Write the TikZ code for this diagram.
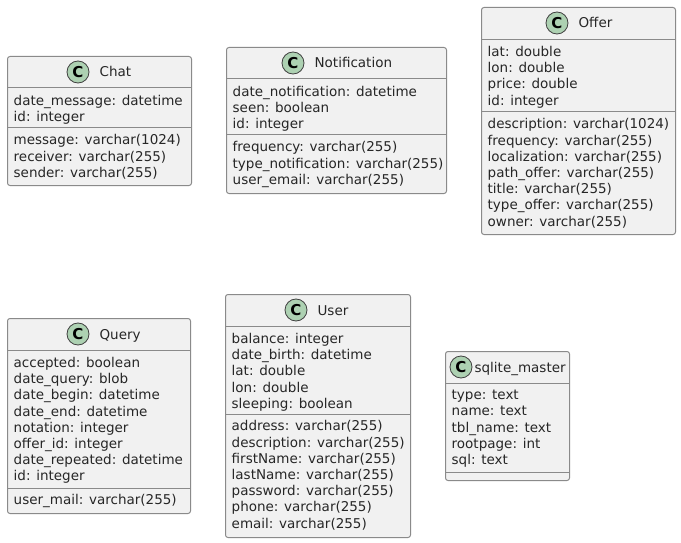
\documentclass[tikz,border=0pt]{standalone}
\usepackage{fontspec}
\setmainfont{DejaVu Sans}
\usetikzlibrary{positioning,calc}
\definecolor{classfill}{HTML}{F1F1F1}
\definecolor{classline}{HTML}{8A8A8A}
\definecolor{iconfill}{HTML}{ADD1B2}
\definecolor{iconline}{HTML}{404040}
\tikzset{
    classbox/.style={draw=classline, fill=classfill, line width=1pt, rounded corners=2.5pt, anchor=north west, inner sep=0pt, outer sep=0pt},
    classicon/.style={draw=iconline, fill=iconfill, line width=0.8pt, circle, minimum size=22pt, inner sep=0pt, font=\fontsize{15}{15}\selectfont\bfseries},
    classtitle/.style={font=\fontsize{13.5}{14}\selectfont, text=black!85, inner sep=0pt, text height=10pt, text depth=0pt},
    members/.style={anchor=north west, align=left, inner sep=0pt, text=black!85, font=\fontsize{13.5}{16.2}\selectfont},
    sep/.style={draw=classline, line width=1pt}
}
\begin{document}
\begin{tikzpicture}[x=1pt, y=-1pt]
        \useasboundingbox (0,0) rectangle (681,543);

        % Chat
        \node[classbox, minimum width=184pt, minimum height=129pt] (chat) at (7.5,56.5) {};
        \node[classicon] (chatIcon) at (78,72) {C};
        \node[classtitle, right=10pt of chatIcon] (chatTitle) {Chat};
        \draw[sep] (chat.west |- 0,88) -- (chat.east |- 0,88);
        \draw[sep] (chat.west |- 0,128) -- (chat.east |- 0,128);
        \node[members] (chatFields) at (13.5,95) {date\_message: datetime\\id: integer};
        \node[members] (chatMethods) at (13.5,134.5) {message: varchar(1024)\\receiver: varchar(255)\\sender: varchar(255)};

        % Notification
        \node[classbox, minimum width=220pt, minimum height=146pt] (notification) at (226.5,47.5) {};
        \node[classicon] (notificationIcon) at (293,63) {C};
        \node[classtitle, right=10pt of notificationIcon] (notificationTitle) {Notification};
        \draw[sep] (notification.west |- 0,79) -- (notification.east |- 0,79);
        \draw[sep] (notification.west |- 0,135) -- (notification.east |- 0,135);
        \node[members] (notificationFields) at (232.5,86) {date\_notification: datetime\\seen: boolean\\id: integer};
        \node[members] (notificationMethods) at (232.5,141.5) {frequency: varchar(255)\\type\_notification: varchar(255)\\user\_email: varchar(255)};

        % Offer
        \node[classbox, minimum width=194pt, minimum height=227pt] (offer) at (481.5,7.5) {};
        \node[classicon] (offerIcon) at (557,23) {C};
        \node[classtitle, right=10pt of offerIcon] (offerTitle) {Offer};
        \draw[sep] (offer.west |- 0,39.5) -- (offer.east |- 0,39.5);
        \draw[sep] (offer.west |- 0,112) -- (offer.east |- 0,112);
        \node[members] (offerFields) at (487.5,46) {lat: double\\lon: double\\price: double\\id: integer};
        \node[members] (offerMethods) at (487.5,118.5) {description: varchar(1024)\\frequency: varchar(255)\\localization: varchar(255)\\path\_offer: varchar(255)\\title: varchar(255)\\type\_offer: varchar(255)\\owner: varchar(255)};

        % Query
        \node[classbox, minimum width=183pt, minimum height=195pt] (query) at (7.5,318.5) {};
        \node[classicon] (queryIcon) at (78,334) {C};
        \node[classtitle, right=10pt of queryIcon] (queryTitle) {Query};
        \draw[sep] (query.west |- 0,350.5) -- (query.east |- 0,350.5);
        \draw[sep] (query.west |- 0,488) -- (query.east |- 0,488);
        \node[members] (queryFields) at (13.5,357) {accepted: boolean\\date\_query: blob\\date\_begin: datetime\\date\_end: datetime\\notation: integer\\offer\_id: integer\\date\_repeated: datetime\\id: integer};
        \node[members] (queryMethods) at (13.5,494.5) {user\_mail: varchar(255)};

        % User
        \node[classbox, minimum width=185pt, minimum height=243pt] (user) at (225.5,294.5) {};
        \node[classicon] (userIcon) at (296,310) {C};
        \node[classtitle, right=10pt of userIcon] (userTitle) {User};
        \draw[sep] (user.west |- 0,326.5) -- (user.east |- 0,326.5);
        \draw[sep] (user.west |- 0,414) -- (user.east |- 0,414);
        \node[members] (userFields) at (231.5,333) {balance: integer\\date\_birth: datetime\\lat: double\\lon: double\\sleeping: boolean};
        \node[members] (userMethods) at (231.5,420.5) {address: varchar(255)\\description: varchar(255)\\firstName: varchar(255)\\lastName: varchar(255)\\password: varchar(255)\\phone: varchar(255)\\email: varchar(255)};

        % sqlite_master
        \node[classbox, minimum width=124pt, minimum height=129pt] (sqlite) at (445.5,351.5) {};
        \node[classicon] (sqliteIcon) at (461,367) {C};
        \node[classtitle, right=2pt of sqliteIcon] (sqliteTitle) {sqlite\_master};
        \draw[sep] (sqlite.west |- 0,383) -- (sqlite.east |- 0,383);
        \draw[sep] (sqlite.west |- 0,472) -- (sqlite.east |- 0,472);
        \node[members] (sqliteFields) at (451.5,390) {type: text\\name: text\\tbl\_name: text\\rootpage: int\\sql: text};
    \end{tikzpicture}
\end{document}
